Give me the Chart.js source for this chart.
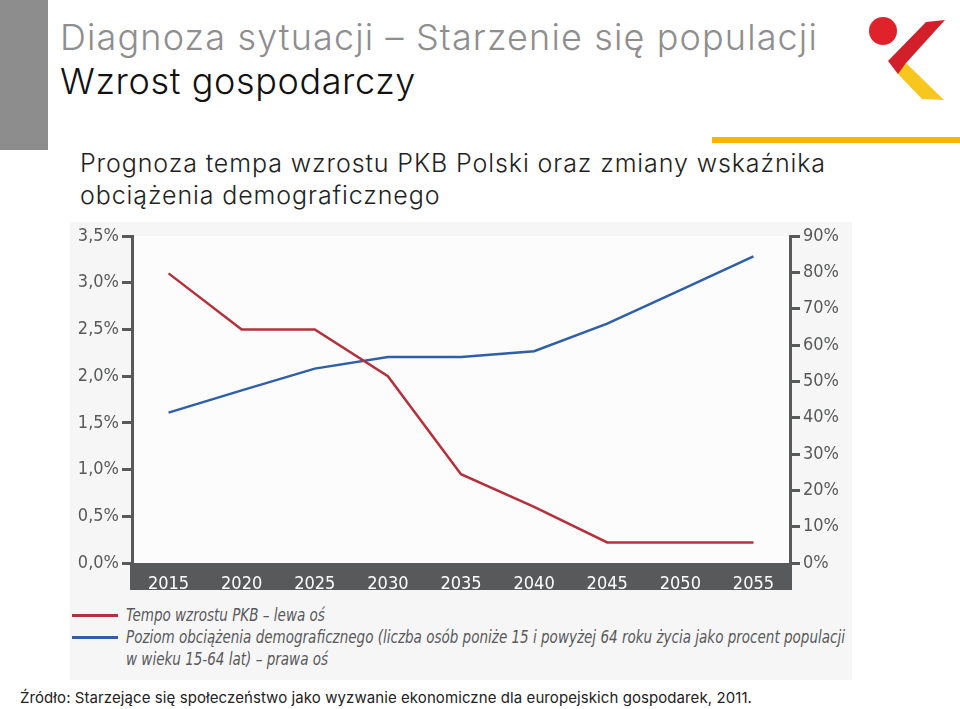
<!DOCTYPE html>
<html>
<head>
<meta charset="utf-8">
<script src="https://cdn.jsdelivr.net/npm/chart.js@4.4.1/dist/chart.umd.min.js"></script>
<style>
  body { margin: 0; width: 960px; height: 709px; position: relative; overflow: hidden; background: #fff; font-family: Inter, 'Open Sans', sans-serif; }
  .abs { position: absolute; white-space: nowrap; }
  #sidebar { left: 0; top: 0; width: 48px; height: 150px; background: #8d8d8d; }
  #title1 { left: 60px; top: 17px; font-size: 36px; font-weight: 300; color: #8e8e8e; line-height: 40px; }
  #title2 { left: 60px; top: 61px; font-size: 36px; font-weight: 300; color: #111; line-height: 40px; }
  #accent { left: 712px; top: 137px; width: 248px; height: 6px; background: #f8b500; }
  #subtitle { left: 80px; top: 147px; font-size: 25px; font-weight: 300; color: #222; line-height: 32px; }
  #panel { left: 70px; top: 222px; width: 782px; height: 458px; background: #f6f6f6; }
  #wrap { left: 70px; top: 222px; width: 782px; height: 380px; }
  #legend { left: 72px; top: 604px; font-family: 'DejaVu Sans Condensed', 'Liberation Sans Narrow', 'Open Sans', sans-serif; font-style: italic; font-size: 18px; color: #58595b; line-height: 22px; }
  .item { display: flex; align-items: flex-start; }
  .sw { display: inline-block; width: 46px; height: 3px; margin-top: 10px; margin-right: 8px; flex: none; }
  .txt { display: inline-block; transform-origin: 0 0; }
  #source { left: 20px; top: 688px; font-size: 15px; color: #222; line-height: 20px; }
</style>
</head>
<body>
<div class="abs" id="sidebar"></div>
<div class="abs" id="title1" data-w="758">Diagnoza sytuacji – Starzenie się populacji</div>
<div class="abs" id="title2" data-w="356">Wzrost gospodarczy</div>
<svg class="abs" style="left:860px;top:10px" width="100" height="100" viewBox="0 0 100 100">
  <circle cx="23" cy="21" r="14" fill="#e0232b"/>
  <polygon points="46,53 84,90 62,89 37,63" fill="#f7c71e"/>
  <polygon points="66,12 85,10 46,53 38,64 28,51" fill="#d31f2a"/>
</svg>
<div class="abs" id="accent"></div>
<div class="abs" id="subtitle" data-w="746">Prognoza tempa wzrostu PKB Polski oraz zmiany wskaźnika<br>obciążenia demograficznego</div>
<div class="abs" id="panel"></div>
<div class="abs" id="wrap"><canvas id="wykres"></canvas></div>
<div class="abs" id="legend">
  <div class="item"><span class="sw" style="background:#b5303a"></span><span class="txt">Tempo wzrostu PKB – lewa oś</span></div>
  <div class="item"><span class="sw" style="background:#2f5fa8"></span><span class="txt">Poziom obciążenia demograficznego (liczba osób poniże 15 i powyżej 64 roku życia jako procent populacji<br>w wieku 15-64 lat) – prawa oś</span></div>
</div>
<div class="abs" id="source" data-w="732">Źródło: Starzejące się społeczeństwo jako wyzwanie ekonomiczne dla europejskich gospodarek, 2011.</div>

<script>
  const years = ['2015', '2020', '2025', '2030', '2035', '2040', '2045', '2050', '2055'];
  const pkbGrowth = [3.1, 2.5, 2.5, 2.0, 0.95, 0.6, 0.22, 0.22, 0.22];
  const dependencyRatio = [41.4, 47.5, 53.5, 56.7, 56.7, 58.3, 65.9, 75.1, 84.4];
  const leftMax = 3.5, leftStep = 0.5;
  const rightMax = 90, rightStep = 10;

  // stretch the headings to the widths of the original slide
  document.querySelectorAll('[data-w]').forEach(function (el) {
    const target = +el.dataset.w;
    const w = el.getBoundingClientRect().width;
    const longest = el.innerHTML.split('<br>').map(s => s.length).reduce((a, b) => Math.max(a, b));
    el.style.letterSpacing = ((target - w) / longest) + 'px';
  });

  // legend text in the source is a condensed face; squeeze to the same width
  const legendText = document.querySelectorAll('#legend .txt');
  const k = 719 / legendText[1].getBoundingClientRect().width;
  legendText.forEach(t => { t.style.transform = 'scaleX(' + k + ')'; });

  const axisGrey = '#58595b';
  const narrow = "'DejaVu Sans Condensed', 'Liberation Sans Narrow', 'Open Sans', sans-serif";

  const background = {
    id: 'background',
    beforeDraw(chart) {
      const { ctx, chartArea } = chart;
      ctx.save();
      ctx.fillStyle = '#fcfcfc';
      ctx.fillRect(chartArea.left, chartArea.top, chartArea.right - chartArea.left, chartArea.bottom - chartArea.top);
      ctx.fillStyle = axisGrey;
      ctx.fillRect(chartArea.left - 2, chartArea.bottom, chartArea.right - chartArea.left + 4, 27);
      ctx.restore();
    }
  };

  const yAxis = (pos, max, step, fmt) => ({
    position: pos,
    min: 0,
    max: max,
    afterFit: s => { s.width = 62; },
    border: { color: axisGrey, width: 3 },
    grid: { drawOnChartArea: false, color: axisGrey, lineWidth: 3, tickLength: 10 },
    ticks: { stepSize: step, color: axisGrey, padding: 3, font: { family: narrow, size: 18 }, callback: fmt }
  });

  const data = {
    labels: years,
    datasets: [{
      label: 'Tempo wzrostu PKB – lewa oś',
      data: pkbGrowth,
      yAxisID: 'y',
      borderColor: '#b5303a',
      borderWidth: 2.5,
      pointRadius: 0,
      tension: 0
    }, {
      label: 'Poziom obciążenia demograficznego – prawa oś',
      data: dependencyRatio,
      yAxisID: 'y1',
      borderColor: '#2f5fa8',
      borderWidth: 2.5,
      pointRadius: 0,
      tension: 0
    }]
  };

  const config = {
    type: 'line',
    data: data,
    plugins: [background],
    options: {
      responsive: false,
      animation: false,
      layout: { padding: { top: 14, bottom: 0, left: 0, right: 0 } },
      plugins: { legend: { display: false }, tooltip: { enabled: false } },
      scales: {
        x: {
          offset: true,
          afterFit: s => { s.height = 39; },
          grid: { display: false },
          border: { display: false },
          ticks: { color: '#ffffff', padding: 3, font: { family: narrow, size: 18 } }
        },
        y: yAxis('left', leftMax, leftStep, v => v.toFixed(1).replace('.', ',') + '%'),
        y1: yAxis('right', rightMax, rightStep, v => v + '%')
      }
    }
  };

  const canvas = document.getElementById('wykres');
  canvas.width = 782;
  canvas.height = 380;
  new Chart(canvas, config);
</script>
</body>
</html>
